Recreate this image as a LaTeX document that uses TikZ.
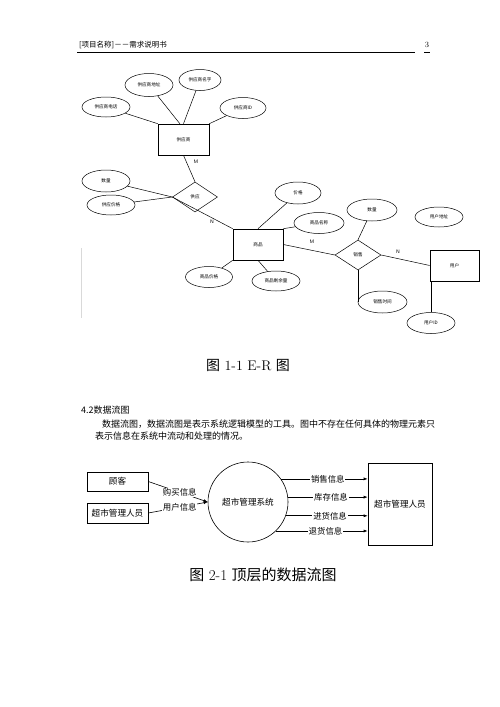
\documentclass[tikz,border=0pt]{standalone}
\usepackage{fontspec}
\newfontfamily\cjk{Noto Sans CJK SC}
\usetikzlibrary{shapes.geometric,arrows.meta}
\begin{document}
\begin{tikzpicture}[x=1pt,y=-1pt,
  erfont/.style={font=\cjk\fontsize{4.6}{5}\selectfont},
  attr/.style={ellipse,draw,line width=0.5pt,inner sep=0pt,minimum width=48pt,minimum height=21pt,erfont},
  ent/.style={rectangle,draw,line width=0.6pt,inner sep=0pt,erfont},
  rel/.style={diamond,draw,line width=0.5pt,inner sep=0pt,minimum width=45pt,minimum height=30pt,erfont},
  erline/.style={line width=0.5pt},
  card/.style={font=\sffamily\fontsize{5}{6}\selectfont,inner sep=0pt},
  box/.style={rectangle,draw,line width=0.6pt,inner sep=0pt,font=\cjk\fontsize{8.6}{10}\selectfont},
  flow/.style={line width=0.6pt,-{Latex[length=4pt,width=3pt]}},
  flab/.style={fill=white,inner sep=0.8pt,font=\cjk\fontsize{8.4}{10}\selectfont},
  txt/.style={anchor=west,inner sep=0pt,font=\cjk\fontsize{9}{10}\selectfont},
]
\fill[white] (0,0) rectangle (500,707);
\useasboundingbox (0,0) rectangle (500,707);

% header
\node[anchor=west,inner sep=0pt,font=\cjk\fontsize{7.5}{8}\selectfont] (hdr) at (79,45) {[项目名称]－－需求说明书};
\draw[line width=0.5pt] (77,52) -- (415,52);
\node[inner sep=0pt,font=\fontsize{8}{9}\selectfont] (pg) at (427,45) {3};
\draw[line width=0.4pt] (424,52) -- (430,52);

% margin mark
\draw[black!15,line width=0.4pt] (81,248) -- (81,318);

% ===== E-R diagram =====
\node[ent,minimum width=51pt,minimum height=31pt] (supp) at (183.5,139.5) {供应商};
\node[attr,minimum height=23pt] (saddr) at (149,85) {供应商地址};
\node[attr,minimum width=42pt] (sname) at (200,80) {供应商名字};
\node[attr,minimum height=20pt] (stel) at (106,107) {供应商电话};
\node[attr,minimum width=46pt] (sid) at (243,108) {供应商ID};
\draw[erline] (stel) -- (supp.north west);
\draw[erline] (saddr) -- (supp.103);
\draw[erline] (sname) -- (supp.north);
\draw[erline] (sid) -- (supp.north east);

\node[rel] (supply) at (195,197) {供应};
\draw[erline] (supp.south) -- (supply.north);
\node[card] (m1) at (196,162) {M};
\node[attr,minimum height=22pt] (qty1) at (106,181) {数量};
\node[attr,minimum height=20pt] (sprice) at (111,205) {供应价格};
\draw[erline] (qty1) -- (supply.west);
\draw[erline] (sprice) -- (supply.west);

\node[ent,minimum width=50pt,minimum height=31pt] (goods) at (258,244.5) {商品};
\draw[erline] (supply.west) -- (goods.north west);
\node[card] (n1) at (212,222) {N};
\node[attr,minimum width=46pt,minimum height=22pt] (price) at (298,193) {价格};
\draw[erline] (price) -- (goods.north);
\node[attr,minimum width=50pt] (gname) at (319,223) {商品名称};
\draw[erline] (gname) -- (goods.north east);
\node[attr,minimum width=47pt] (gprice) at (209,277) {商品价格};
\draw[erline] (gprice) -- (goods.south west);
\node[attr,minimum height=20pt] (grem) at (276,281) {商品剩余量};
\draw[erline] (grem) -- (goods.south);

\node[rel,minimum width=46pt] (sale) at (358,255) {销售};
\draw[erline] (goods.east) -- (sale.west);
\node[card] (m2) at (312,242) {M};
\node[attr,minimum width=50pt,minimum height=22pt] (qty2) at (372,210) {数量};
\draw[erline] (qty2) -- (sale.north);
\node[attr,minimum height=20pt] (uaddr) at (439,217) {用户地址};
\node[ent,minimum width=49pt,minimum height=31pt] (user) at (454.5,265.5) {用户};
\draw[erline] (sale.east) -- (user.west);
\node[card] (n2) at (398,252) {N};
\node[attr,minimum width=49pt,minimum height=22pt] (stime) at (382.5,302) {销售时间};
\draw[erline] (sale.south) -- (sale.south |- stime.west);
\node[attr] (uid) at (431,323) {用户ID};
\draw[erline] (uid.north |- user.south) -- (uid.north);

\node[font=\fontsize{14}{16}\selectfont,inner sep=0pt] (cap1) at (248,365) {{\cjk 图} 1-1 E-R {\cjk 图}};

% ===== text =====
\node[txt] (sec) at (81,410) {4.2数据流图};
\node[txt] (p1) at (102,424.5) {数据流图，数据流图是表示系统逻辑模型的工具。图中不存在任何具体的物理元素只};
\node[txt] (p2) at (95,436.5) {表示信息在系统中流动和处理的情况。};

% ===== data flow diagram =====
\node[box,minimum width=61pt,minimum height=19pt] (cust) at (117.5,481.5) {顾客};
\node[box,minimum width=61pt,minimum height=20pt] (admL) at (117.5,513) {超市管理人员};
\node[circle,draw,line width=0.6pt,minimum size=80pt,inner sep=0pt,font=\cjk\fontsize{8.6}{10}\selectfont] (sys) at (248,502) {超市管理系统};
\node[box,minimum width=64pt,minimum height=82pt] (mgr) at (400,504) {超市管理人员};
\draw[flow] (cust.east) -- node[flab,pos=0.53]{购买信息} (sys.west);
\draw[flow] (admL.east) -- node[flab,pos=0.53]{用户信息} (sys.west);
\foreach \a/\t in {35/销售信息,7/库存信息,-20.5/进货信息,-46.5/退货信息}
  \draw[flow] (sys.\a) -- node[flab,pos=0.54]{\t} (sys.\a -| mgr.west);

\node[font=\fontsize{15}{17}\selectfont,inner sep=0pt] (cap2) at (263,575) {{\cjk 图} 2-1 {\cjk 顶层的数据流图}};
\end{tikzpicture}
\end{document}
